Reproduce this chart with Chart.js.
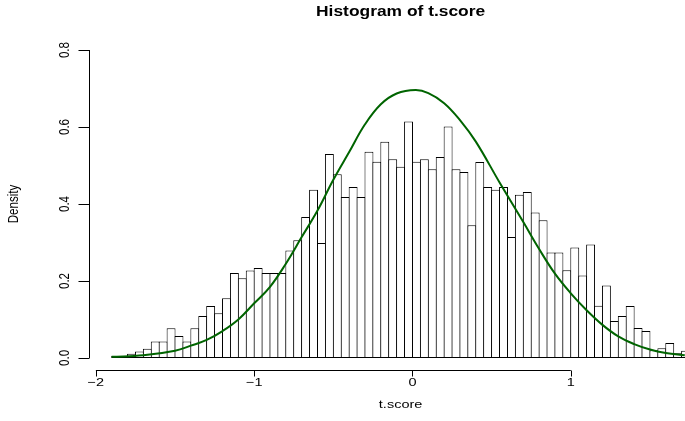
<!DOCTYPE html>
<html>
<head>
<meta charset="utf-8">
<script src="https://cdn.jsdelivr.net/npm/chart.js@4.4.1/dist/chart.umd.min.js"></script>
<style>
  html, body { margin: 0; padding: 0; background: #ffffff; overflow: hidden; }
  canvas { display: block; }
</style>
</head>
<body>
<canvas id="hist" width="685" height="421"></canvas>
<script>
// Histogram bins (width 0.05), centres from -1.875 up to 1.725
const binStart = -1.9;
const binWidth = 0.05;
const density = [
    0.005, 0.003, 0.011, 0.017, 0.024, 0.043, 0.043, 0.077, 0.057, 0.043,
    0.077, 0.109, 0.135, 0.116, 0.155, 0.221, 0.207, 0.227, 0.234, 0.221,
    0.221, 0.221, 0.279, 0.306, 0.366, 0.437, 0.299, 0.530, 0.477, 0.418,
    0.444, 0.418, 0.536, 0.510, 0.562, 0.516, 0.497, 0.614, 0.510, 0.516,
    0.490, 0.522, 0.601, 0.490, 0.483, 0.345, 0.509, 0.444, 0.437, 0.444,
    0.314, 0.424, 0.431, 0.378, 0.358, 0.274, 0.274, 0.228, 0.287, 0.214,
    0.295, 0.136, 0.188, 0.096, 0.109, 0.135, 0.078, 0.070, 0.020, 0.025,
    0.039, 0.012, 0.019,
];

// Normal curve
const curveX = [-1.9, -1.7, -1.5, -1.4, -1.3, -1.2, -1.1, -1.0, -0.9, -0.8,
    -0.7, -0.6, -0.5, -0.4, -0.3, -0.2, -0.1, 0.02, 0.1, 0.2, 0.3, 0.4, 0.55,
    0.7, 0.8, 0.9, 1.0, 1.1, 1.2, 1.3, 1.4, 1.5, 1.6, 1.72];
const curveY = [0.003, 0.007, 0.019, 0.032, 0.047, 0.070, 0.100, 0.142, 0.185, 0.245,
    0.314, 0.383, 0.463, 0.535, 0.607, 0.659, 0.687, 0.696, 0.688, 0.662, 0.618, 0.562, 0.456,
    0.353, 0.283, 0.219, 0.168, 0.124, 0.086, 0.056, 0.036, 0.022, 0.013, 0.007];

// Axis ticks and labels
const xTicks = [-2, -1, 0, 1];
const xTickLabels = ["\u22122", "\u22121", "0", "1"];
const yTicks = [0, 0.2, 0.4, 0.6, 0.8];
const yTickLabels = ["0.0", "0.2", "0.4", "0.6", "0.8"];
const mainTitle = "Histogram of t.score";
const xTitle = "t.score";
const yTitle = "Density";

const barPoints = density.map((d, i) => ({ x: binStart + binWidth * (i + 0.5), y: d }));
const curvePoints = curveX.map((x, i) => ({ x: x, y: curveY[i] }));

// text in the reference is a little squashed vertically
const SQUASH = 0.8;
const FONT = "14.5px 'Liberation Sans', Arial, sans-serif";
const FONT_MAIN = "bold 17.4px 'Liberation Sans', Arial, sans-serif";

const drawText = (ctx, str, x, y, font, rotated) => {
    ctx.save();
    ctx.translate(x, y);
    if (rotated) {
        ctx.rotate(-Math.PI / 2);
        ctx.scale(SQUASH, 1);
    } else {
        ctx.scale(1, SQUASH);
    }
    ctx.font = font;
    ctx.fillStyle = "#000000";
    ctx.textAlign = "center";
    ctx.textBaseline = "middle";
    ctx.fillText(str, 0, 0);
    ctx.restore();
};

// R style axes: lines only across the tick range, drawn outside the plot area
const rAxes = {
    id: "rAxes",
    afterDraw(chart) {
        const { ctx, chartArea, scales: { x, y } } = chart;
        ctx.save();
        ctx.strokeStyle = "#000000";
        ctx.lineWidth = 1;

        const axisY = Math.round(chartArea.bottom) + 0.5;
        ctx.beginPath();
        ctx.moveTo(x.getPixelForValue(xTicks[0]), axisY);
        ctx.lineTo(x.getPixelForValue(xTicks[xTicks.length - 1]), axisY);
        xTicks.forEach((t) => {
            const px = Math.round(x.getPixelForValue(t)) + 0.5;
            ctx.moveTo(px, axisY);
            ctx.lineTo(px, axisY + 6);
        });
        ctx.stroke();

        const axisX = Math.round(chartArea.left) + 0.5;
        ctx.beginPath();
        ctx.moveTo(axisX, y.getPixelForValue(yTicks[0]));
        ctx.lineTo(axisX, y.getPixelForValue(yTicks[yTicks.length - 1]));
        yTicks.forEach((t) => {
            const py = Math.round(y.getPixelForValue(t)) + 0.5;
            ctx.moveTo(axisX, py);
            ctx.lineTo(axisX - 11, py);
        });
        ctx.stroke();
        ctx.restore();

        xTicks.forEach((t, i) => drawText(ctx, xTickLabels[i], x.getPixelForValue(t), axisY + 12, FONT, false));
        yTicks.forEach((t, i) => drawText(ctx, yTickLabels[i], axisX - 25, y.getPixelForValue(t), FONT, true));

        const plotMid = (chartArea.left + 712.6) / 2;
        drawText(ctx, mainTitle, plotMid, 12.5, FONT_MAIN, false);
        drawText(ctx, xTitle, plotMid, axisY + 34, FONT, false);
        drawText(ctx, yTitle, 14, (chartArea.top + chartArea.bottom) / 2, FONT, true);
    },
};

new Chart(document.getElementById("hist"), {
    type: "bar",
    plugins: [rAxes],
    data: {
        datasets: [
            {
                type: "line",
                data: curvePoints,
                borderColor: "#006400",
                borderWidth: 2,
                pointRadius: 0,
                tension: 0.4,
                order: 0,
            },
            {
                type: "bar",
                data: barPoints,
                backgroundColor: "#ffffff",
                borderColor: "#000000",
                borderWidth: 1,
                borderSkipped: false,
                categoryPercentage: 1,
                barPercentage: 1.126,
                order: 1,
            },
        ],
    },
    options: {
        responsive: false,
        devicePixelRatio: 1,
        animation: false,
        layout: { padding: { left: 88.6, right: 0, top: 37.7, bottom: 50.7 } },
        plugins: {
            legend: { display: false },
            tooltip: { enabled: false },
            title: { display: false },
        },
        scales: {
            x: { type: "linear", offset: false, min: -2.046, max: 1.7214, display: false },
            y: { type: "linear", min: -0.032, max: 0.832, display: false },
        },
    },
});
</script>
</body>
</html>
